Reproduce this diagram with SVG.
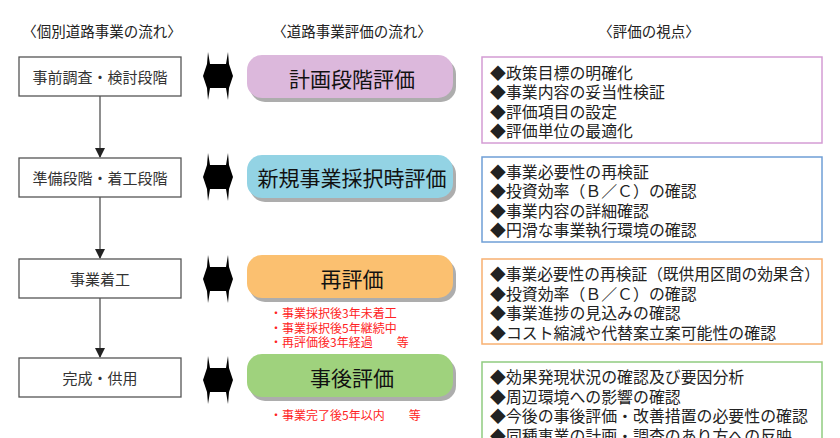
<svg xmlns="http://www.w3.org/2000/svg" xmlns:xlink="http://www.w3.org/1999/xlink" width="840" height="438" viewBox="0 0 840 438">
<style>
text{font-family:"Noto Sans CJK JP","Noto Sans CJK SC",sans-serif;}
.hdr{font-size:14.5px;fill:#222;text-anchor:middle;}
.step{fill:#fff;stroke:#555;stroke-width:1.3;}
.steptxt{font-size:15px;fill:#333;text-anchor:middle;}
.pilltxt{font-size:21px;fill:#111;text-anchor:middle;}
.shadow{fill:#000;opacity:0.32;}
.view{fill:#fff;stroke-width:1.5;}
.viewtxt{font-size:15.9px;fill:#222;}
.red{font-size:12px;fill:#f22;}
.conn{stroke:#444;stroke-width:1.2;fill:none;}
</style>
<defs>
<marker id="ah" markerWidth="10" markerHeight="10" refX="9" refY="5" orient="auto" markerUnits="userSpaceOnUse">
<path d="M0,0 L10,5 L0,10 Z" fill="#222"/>
</marker>
<path id="dbl" d="M208,-24 L210,-12 L226,-12 L228,-24 L229,-12 L233,0 L229,12 L228,24 L226,12 L210,12 L208,24 L207,12 L203,0 L207,-12 Z" fill="#000"/>
</defs>
<rect width="840" height="438" fill="#fff"/>

<g id="headers">
<text class="hdr" x="102" y="36.5">〈個別道路事業の流れ〉</text>
<text class="hdr" x="352" y="36.5">〈道路事業評価の流れ〉</text>
<text class="hdr" x="649" y="36.5">〈評価の視点〉</text>
</g>

<g id="connectors">
<line class="conn" x1="100" y1="96" x2="100" y2="157" marker-end="url(#ah)"/>
<line class="conn" x1="100" y1="197" x2="100" y2="258" marker-end="url(#ah)"/>
<line class="conn" x1="100" y1="298" x2="100" y2="357" marker-end="url(#ah)"/>
<use xlink:href="#dbl" href="#dbl" transform="translate(0,76)"/>
<use xlink:href="#dbl" href="#dbl" transform="translate(0,177)"/>
<use xlink:href="#dbl" href="#dbl" transform="translate(0,279)"/>
<use xlink:href="#dbl" href="#dbl" transform="translate(0,380)"/>
</g>

<g id="step1">
<rect class="step" x="19" y="57" width="162" height="39"/>
<text class="steptxt" x="100" y="83">事前調査・検討段階</text>
</g>
<g id="step2">
<rect class="step" x="19" y="158" width="162" height="39"/>
<text class="steptxt" x="100" y="184">準備段階・着工段階</text>
</g>
<g id="step3">
<rect class="step" x="19" y="259" width="162" height="39"/>
<text class="steptxt" x="100" y="285">事業着工</text>
</g>
<g id="step4">
<rect class="step" x="19" y="358" width="162" height="39"/>
<text class="steptxt" x="100" y="384">完成・供用</text>
</g>

<g id="eval1">
<rect class="shadow" x="250" y="59" width="206" height="43" rx="15"/>
<rect x="247" y="55" width="206" height="43" rx="15" fill="#dcb8dc"/>
<text class="pilltxt" x="352" y="87">計画段階評価</text>
</g>
<g id="eval2">
<rect class="shadow" x="250" y="159" width="206" height="43" rx="15"/>
<rect x="247" y="155" width="206" height="43" rx="15" fill="#93d3e4"/>
<text class="pilltxt" x="352" y="186">新規事業採択時評価</text>
</g>
<g id="eval3">
<rect class="shadow" x="250" y="259" width="206" height="43" rx="15"/>
<rect x="247" y="255" width="206" height="43" rx="15" fill="#fbc070"/>
<text class="pilltxt" x="352" y="287">再評価</text>
<text class="red" x="270" y="318">・事業採択後3年未着工</text>
<text class="red" x="270" y="332.5">・事業採択後5年継続中</text>
<text class="red" x="270" y="347">・再評価後3年経過　　等</text>
</g>
<g id="eval4">
<rect class="shadow" x="250" y="358" width="206" height="43" rx="15"/>
<rect x="247" y="354" width="206" height="43" rx="15" fill="#9fd27d"/>
<text class="pilltxt" x="352" y="386">事後評価</text>
<text class="red" x="270" y="420">・事業完了後5年以内　　等</text>
</g>

<g id="view1">
<rect class="view" x="482" y="57" width="340" height="86" stroke="#d49cd4"/>
<text class="viewtxt" x="490" y="78.5">◆政策目標の明確化</text>
<text class="viewtxt" x="490" y="98">◆事業内容の妥当性検証</text>
<text class="viewtxt" x="490" y="117.5">◆評価項目の設定</text>
<text class="viewtxt" x="490" y="137">◆評価単位の最適化</text>
</g>
<g id="view2">
<rect class="view" x="482" y="157" width="340" height="85" stroke="#6f9fd6"/>
<text class="viewtxt" x="490" y="177.5">◆事業必要性の再検証</text>
<text class="viewtxt" x="490" y="197">◆投資効率（Ｂ／Ｃ）の確認</text>
<text class="viewtxt" x="490" y="216.5">◆事業内容の詳細確認</text>
<text class="viewtxt" x="490" y="236">◆円滑な事業執行環境の確認</text>
</g>
<g id="view3">
<rect class="view" x="482" y="259" width="340" height="85" stroke="#f8b070"/>
<text class="viewtxt" x="490" y="280" textLength="330" lengthAdjust="spacingAndGlyphs">◆事業必要性の再検証（既供用区間の効果含）</text>
<text class="viewtxt" x="490" y="299.5">◆投資効率（Ｂ／Ｃ）の確認</text>
<text class="viewtxt" x="490" y="319">◆事業進捗の見込みの確認</text>
<text class="viewtxt" x="490" y="338.5">◆コスト縮減や代替案立案可能性の確認</text>
</g>
<g id="view4">
<rect class="view" x="482" y="362" width="340" height="90" stroke="#90cc80"/>
<text class="viewtxt" x="490" y="383">◆効果発現状況の確認及び要因分析</text>
<text class="viewtxt" x="490" y="402.5">◆周辺環境への影響の確認</text>
<text class="viewtxt" x="490" y="422">◆今後の事後評価・改善措置の必要性の確認</text>
<text class="viewtxt" x="490" y="441.5">◆同種事業の計画・調査のあり方への反映</text>
</g>
</svg>
